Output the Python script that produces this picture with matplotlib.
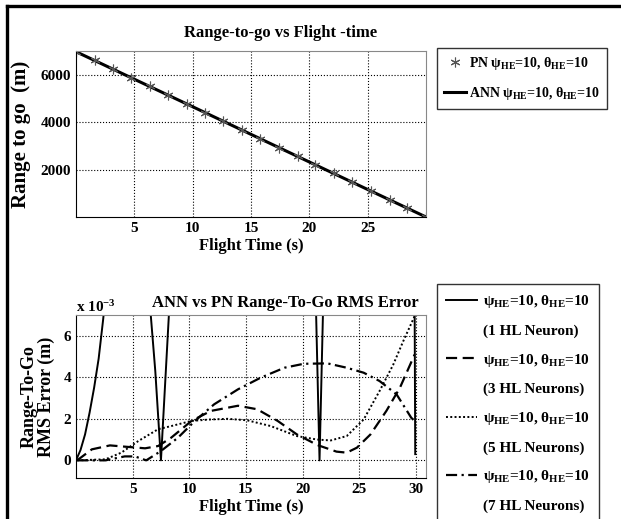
import matplotlib
matplotlib.use('agg')
import matplotlib.pyplot as plt
from matplotlib.lines import Line2D

plt.rcParams['font.family'] = ['Liberation Serif', 'DejaVu Serif']
plt.rcParams['font.weight'] = 'bold'
plt.rcParams['axes.labelweight'] = 'bold'
plt.rcParams['axes.titleweight'] = 'bold'
plt.rcParams['mathtext.fontset'] = 'custom'
plt.rcParams['mathtext.rm'] = 'Liberation Serif:bold'
plt.rcParams['mathtext.it'] = 'Liberation Serif:bold'
plt.rcParams['mathtext.bf'] = 'Liberation Serif:bold'

# top chart: range-to-go (m) vs flight time (s)
t_pn = [0, 1.6, 3.2, 4.7, 6.3, 7.9, 9.5, 11.1, 12.6, 14.2,
        15.8, 17.4, 19.0, 20.5, 22.1, 23.7, 25.3, 26.9, 28.4, 30.0]
range_pn = [6970, 6600, 6230, 5880, 5510, 5130, 4760, 4390, 4040, 3670,
            3300, 2930, 2560, 2210, 1840, 1460, 1090, 720, 370, 0]
t_ann = [0, 10, 20, 30]
range_ann = [6970, 4650, 2320, 0]

# bottom chart: RMS error (x 1e-3 m)
t_1hl = [0, 0.4, 0.8, 1.2, 1.6, 2.0, 2.4, 2.8, 4.5, 6.2, 6.6, 7.0, 7.5, 7.85,
         8.2, 8.6, 15, 20.8, 21.2, 21.5, 21.8, 22.2, 29.7, 29.9, 29.95]
err_1hl = [0, 0.5, 1.25, 2.3, 3.5, 4.9, 6.8, 9, 15, 9.5, 7.0, 4.3, 0, 3.5,
           7, 9.5, 20, 9.5, 7, 0, 7, 12, 12, 7, 0.3]
t_3hl = [0.1, 1.4, 3.0, 4.3, 6.1, 7.25, 8.4, 10.2, 11.9, 14.3, 16.0, 17.8,
         19.5, 21.3, 23.0, 23.9, 24.8, 26.0, 27.4, 28.6, 29.9]
err_3hl = [0, 0.53, 0.72, 0.66, 0.58, 0.69, 1.09, 1.9, 2.38, 2.63, 2.46, 1.9,
           1.25, 0.74, 0.42, 0.37, 0.61, 1.25, 2.38, 3.5, 5.1]
t_5hl = [0.1, 2.6, 4.0, 5.5, 7.25, 8.4, 10.2, 11.9, 13.4, 15.1, 17.2, 19.5,
         21.3, 22.5, 23.9, 25.4, 26.8, 28.0, 28.9, 29.9]
err_5hl = [0, 0.05, 0.37, 0.93, 1.5, 1.65, 1.9, 1.97, 2.0, 1.93, 1.65, 1.17,
           1.0, 0.96, 1.17, 1.97, 3.34, 4.6, 5.75, 6.95]
t_7hl = [0.1, 1.4, 2.6, 4.3, 5.2, 6.2, 7.5, 9.0, 10.5, 12.2, 14.3, 16.3,
         18.4, 20.1, 22.2, 23.9, 25.4, 26.8, 28.3, 29.6, 29.9]
err_7hl = [0, 0, 0.0, 0.19, 0.19, 0, 0.45, 1.09, 1.9, 2.7, 3.42, 3.98,
           4.46, 4.65, 4.67, 4.46, 4.22, 3.82, 3.18, 2.05, 1.9]

label_line1 = r'$\psi_{HE}$=10, $\theta_{HE}$=10'
neuron_labels = ['(1 HL Neuron)', '(3 HL Neurons)', '(5 HL Neurons)', '(7 HL Neurons)']

W, H = 621, 519
fig = plt.figure(figsize=(6.21, 5.19), dpi=100)


def style_axes(ax):
    ax.grid(True, ls=':', color='black', lw=0.8)
    ax.tick_params(direction='in', length=0, labelsize=11)
    for s in ['top', 'right']:
        ax.spines[s].set_color('#888888')
    for s in ['left', 'bottom']:
        ax.spines[s].set_color('black')


# --- top plot
ax1 = fig.add_axes([76 / W, 1 - 217 / H, 350 / W, 166 / H])
ax1.plot(t_ann, range_ann, color='black', lw=2.2,
         label=r'ANN $\psi_{HE}$=10, $\theta_{HE}$=10')
ax1.plot(t_pn, range_pn, ls='none', marker=(6, 2, 0), ms=7, mew=0.8,
         color='#555555', label=r'PN $\psi_{HE}$=10, $\theta_{HE}$=10')
ax1.set_xlim(0, 30)
ax1.set_ylim(0, 7000)
ax1.set_xticks([5, 10, 15, 20, 25])
ax1.set_yticks([2000, 4000, 6000])
style_axes(ax1)
ax1.set_title('Range-to-go vs Flight -time', fontsize=12, x=0.585, pad=10)
ax1.set_xlabel('Flight Time (s)', fontsize=12, labelpad=2)
ax1.set_ylabel('Range to go  (m)', fontsize=15, labelpad=7)
h, l = ax1.get_legend_handles_labels()
ax1.legend(h[::-1], l[::-1], loc='upper left', bbox_to_anchor=(437 / W, 1 - 48 / H),
           bbox_transform=fig.transFigure, fontsize=10, frameon=True,
           fancybox=False, edgecolor='black', handlelength=1.6, handletextpad=0.2,
           borderpad=0.5, borderaxespad=0, labelspacing=0.95)

# --- bottom plot
ax2 = fig.add_axes([76 / W, 1 - 478 / H, 350 / W, 163 / H])
l1, = ax2.plot(t_1hl, err_1hl, color='black', lw=1.4, ls='-')
l3, = ax2.plot(t_3hl, err_3hl, color='black', lw=1.6, ls=(0, (5, 2.5)))
l5, = ax2.plot(t_5hl, err_5hl, color='black', lw=1.4, ls=(0, (1, 1.2)))
l7, = ax2.plot(t_7hl, err_7hl, color='black', lw=1.6, ls=(0, (5, 2, 1, 2)))
ax2.set_xlim(0, 30.9)
ax2.set_ylim(-0.85, 7)
ax2.set_xticks([5, 10, 15, 20, 25, 30])
ax2.set_yticks([0, 2, 4, 6])
style_axes(ax2)
ax2.set_title('ANN vs PN Range-To-Go RMS Error', fontsize=12, x=0.597, pad=6)
ax2.text(0, 1.0, r'x 10$^{-3}$', transform=ax2.transAxes, fontsize=11,
         ha='left', va='bottom')
ax2.set_xlabel('Flight Time (s)', fontsize=12, labelpad=2)
ax2.set_ylabel('Range-To-Go\nRMS Error (m)', fontsize=13, labelpad=6,
               linespacing=1.05)

blank = Line2D([], [], color='none')
handles, labels = [], []
for ln, nl in zip([l1, l3, l5, l7], neuron_labels):
    handles += [ln, blank]
    labels += [label_line1, nl]
ax2.legend(handles, labels, loc='upper left', bbox_to_anchor=(437 / W, 1 - 284 / H),
           bbox_transform=fig.transFigure, fontsize=11, frameon=True,
           fancybox=False, edgecolor='black', handlelength=2.0, handletextpad=0.4,
           borderpad=0.6, labelspacing=0.9, borderaxespad=0)

# outer frame (top and left)
fig.add_artist(Line2D([7 / W, 1], [1 - 6 / H, 1 - 6 / H], color='black', lw=2.4,
                      transform=fig.transFigure))
fig.add_artist(Line2D([7 / W, 7 / W], [0, 1 - 6 / H], color='black', lw=2.4,
                      transform=fig.transFigure))

fig.savefig('out.png', dpi=100)
